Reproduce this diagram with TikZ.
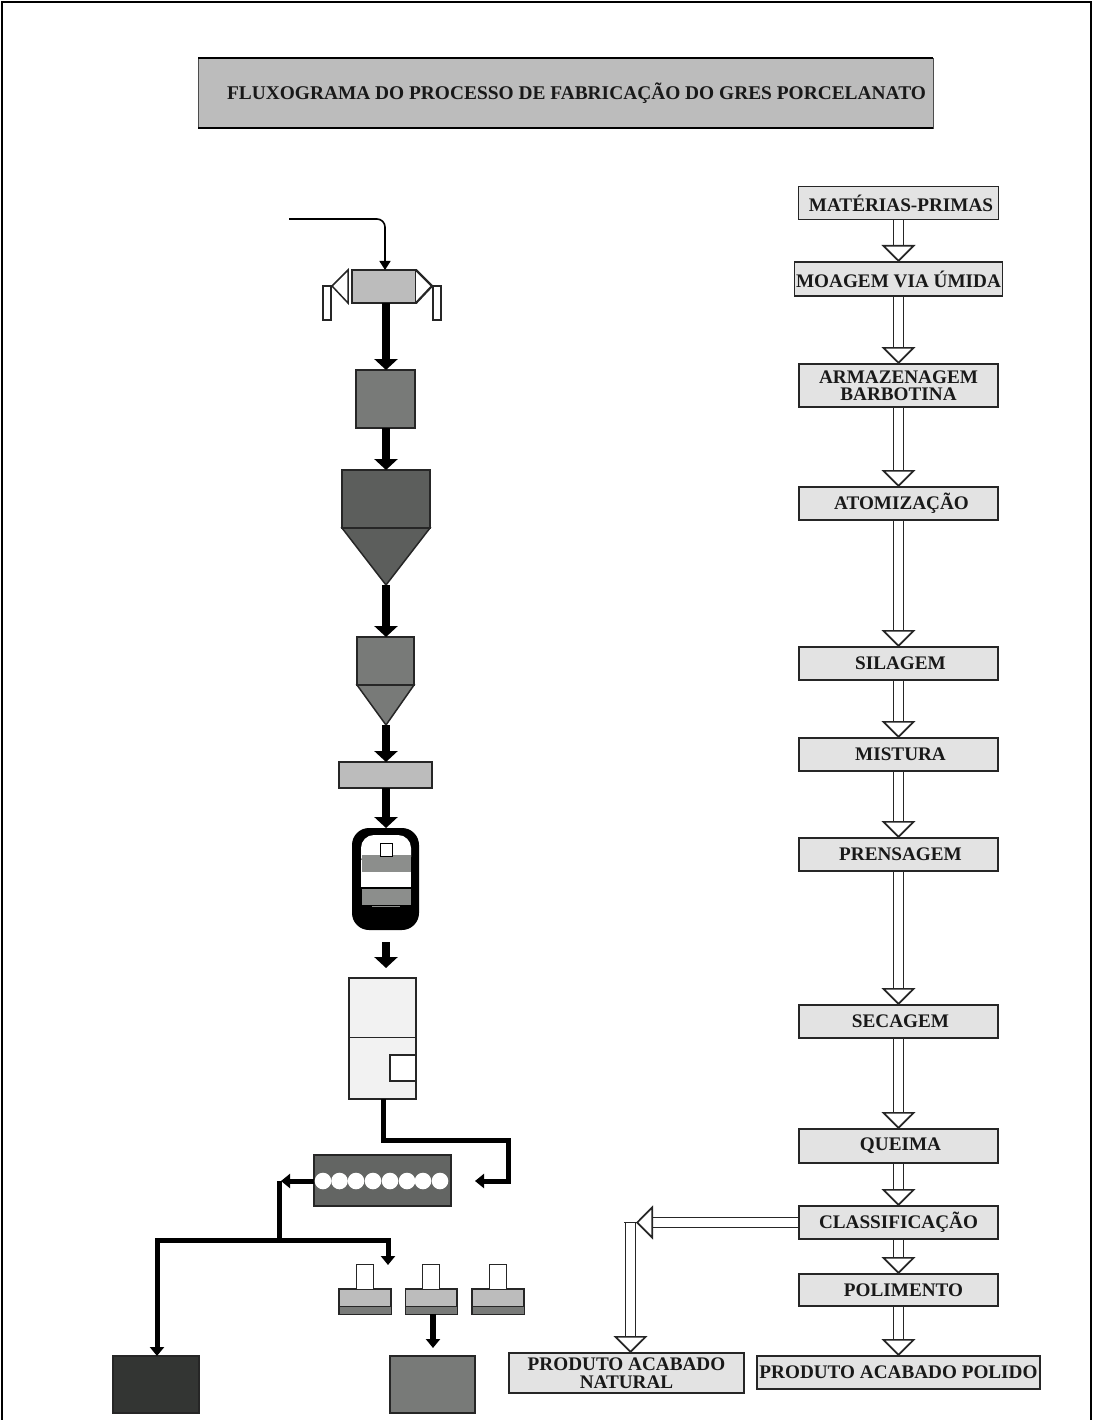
\documentclass[tikz,border=0pt]{standalone}
\usepackage{fontspec}
\setmainfont{Liberation Serif}
\usetikzlibrary{arrows.meta,calc}
\definecolor{boxgray}{HTML}{E3E3E3}
\definecolor{lightg}{HTML}{BCBCBC}
\definecolor{midg}{HTML}{787A78}
\definecolor{darkg}{HTML}{5C5E5C}
\definecolor{roller}{HTML}{636563}
\definecolor{nearblack}{HTML}{333533}
\tikzset{
  x=1pt,y=-1pt,
  stepbox/.style={draw=black!85,line width=1.5pt,fill=boxgray,inner sep=0pt,outer sep=0pt,align=center,
    font=\fontsize{19.2}{17.5}\selectfont\bfseries,text=black!90},
  hollowarrow/.style={draw=black!85,line width=1.7pt,double=white,double distance=8.5pt,shorten <=.8pt,
    -{Triangle[width=34pt,length=17pt,fill=white,line width=1.7pt]}},
  heavy/.style={draw=black,line width=8pt,-{Triangle[width=23pt,length=11pt,fill=black]}},
  feed/.style={draw=black,line width=5pt,-{Triangle[width=14pt,length=9pt,fill=black]}},
  equip/.style={draw=black!85,line width=1.5pt,inner sep=0pt,outer sep=0pt},
}
\newcommand{\pbox}[6]{% name, x0, y0, x1, y1, style
  \node[#6,minimum width=#4-#2,minimum height=#5-#3,anchor=north west] (#1) at (#2,#3) {};}
\newcommand{\stp}[5]{\node[stepbox,minimum width=#3,minimum height=#4] (#1) at (#2) {#5};}
\begin{document}
\begin{tikzpicture}
\useasboundingbox (0,0) rectangle (1093,1420);
\draw[black,line width=1.5pt] (2,1420) -- (2,2) -- (1091,2) -- (1091,1420);
% title
\node[fill=lightg,draw=black!70,line width=.6pt,anchor=north west,minimum width=735,minimum height=70,inner sep=0pt,outer sep=0pt] (title) at (198,58) {};
\draw[black,line width=2.5pt] (title.north west) -- (title.north east);
\draw[black,line width=2.5pt] (title.south west) -- (title.south east);
\node[font=\fontsize{19.4}{19}\selectfont\bfseries,text=black!90,anchor=center] (titletext) at (576.5,93) {FLUXOGRAMA DO PROCESSO DE FABRICAÇÃO DO GRES PORCELANATO};
% right column
\stp{s1}{898.5,203}{200}{33}{\hspace*{5pt}MATÉRIAS-PRIMAS}
\stp{s2}{898.5,279}{208}{34}{MOAGEM VIA ÚMIDA}
\stp{s3}{898.5,385.5}{199}{43}{ARMAZENAGEM\\BARBOTINA}
\stp{s4}{898.5,503.5}{199}{33}{\hspace*{6pt}ATOMIZAÇÃO}
\stp{s5}{898.5,663.5}{199}{33}{\hspace*{4pt}SILAGEM}
\stp{s6}{898.5,754.5}{199}{33}{\hspace*{4pt}MISTURA}
\stp{s7}{898.5,854.5}{199}{33}{\hspace*{4pt}PRENSAGEM}
\stp{s8}{898.5,1021.5}{199}{33}{\hspace*{4pt}SECAGEM}
\stp{s9}{898.5,1146}{199}{34}{\hspace*{4pt}QUEIMA}
\stp{s10}{898.5,1222.5}{199}{33}{CLASSIFICAÇÃO}
\stp{s11}{898.5,1290}{199}{32}{\hspace*{10pt}POLIMENTO}
\stp{s12}{898.5,1372.5}{283}{33}{PRODUTO ACABADO POLIDO}
\stp{s13}{626.5,1373}{235}{40}{PRODUTO ACABADO\\NATURAL}
\foreach \a/\b in {s1/s2,s2/s3,s3/s4,s4/s5,s5/s6,s6/s7,s7/s8,s8/s9,s9/s10,s10/s11,s11/s12}
  \draw[hollowarrow] (\a.south) -- (\b.north);
\coordinate (turn) at (630.5,1222.5);
\coordinate (turnin) at (636,1222.5);
\coordinate (natin) at (turn |- s13.north);
\draw[hollowarrow] (turn) -- (natin);
\draw[black!85,line width=1.7pt] ($(turn)+(-6.5,0)$) -- ($(turn)+(6.5,0)$);
\draw[hollowarrow] (s10.west) -- (turnin);
% left column
\coordinate (feedstart) at (289,219);
\pbox{mill}{352}{270}{416}{303}{equip,fill=lightg}
\coordinate (millin) at (385,270);
\draw[line width=1.6pt,-{Triangle[width=11pt,length=9pt,fill=black]},rounded corners=8pt] (feedstart) -- (feedstart -| millin) -- (millin);
\draw[equip,fill=white] (348,270) -- (332,286) -- (348,303) -- cycle;
\draw[equip,fill=white,line width=2.2pt] (416,270) -- (432,286) -- (416,303);
\node[equip,fill=white,minimum width=8,minimum height=34,anchor=north west] (legl) at (323,286) {};
\node[equip,fill=white,minimum width=8,minimum height=34,anchor=north west] (legr) at (433,286) {};
\pbox{tank}{356}{370}{415}{428}{equip,fill=midg}
\pbox{atom}{342}{470}{430}{528}{equip,fill=darkg}
\draw[equip,fill=darkg] (atom.south west) -- (atom.south east) -- (386,585) coordinate (atomtip) -- cycle;
\pbox{silo}{357}{637}{414}{685}{equip,fill=midg}
\draw[equip,fill=midg] (silo.south west) -- (silo.south east) -- (386,725) coordinate (silotip) -- cycle;
\pbox{feeder}{339}{762}{432}{788}{equip,fill=lightg}
% press
\node[fill=black,rounded corners=17pt,minimum width=67,minimum height=102,anchor=north west,inner sep=0pt,outer sep=0pt] (press) at (352,828) {};
\fill[white,rounded corners=13pt] (361,870) -- (361,835) -- (411,835) -- (411,870) -- cycle;
\fill[white] (361,860) rectangle (411,887);
\fill[midg!85] (362,855) rectangle (411,872);
\fill[midg!85] (362,889) rectangle (411,905);
\fill[midg!85] (372,905.5) rectangle (400,907);
\node[draw=black,line width=1pt,fill=white,minimum width=12,minimum height=13,anchor=north west,inner sep=0pt] (pressq) at (380,843) {};
\coordinate (outa) at (386,942);
\coordinate (outb) at (386,968);
\pbox{dryer}{349}{978}{416}{1099}{equip,fill=black!5}
\draw[black!85,line width=1pt] (dryer.west |- 0,1037) -- (dryer.east |- 0,1037);
\node[equip,fill=white,minimum width=26,minimum height=26,anchor=north west] (dryerbox) at (390,1055) {};
% kiln
\pbox{kiln}{314}{1155}{451}{1206}{equip,fill=roller}
\foreach \cx in {323,339.5,356,373,390,407,423,440}
  \fill[white] (\cx,1181) circle[radius=8.3];
\coordinate (c) at (386,0);
\foreach \a/\b in {mill/tank,tank/atom,feeder/press}
  \draw[heavy] (c |- \a.south) -- (c |- \b.north);
\draw[heavy] (atomtip) -- (c |- silo.north);
\draw[heavy] (silotip) -- (c |- feeder.north);
\draw[heavy] (outa) -- (outb);
\coordinate (kilnin) at (475,1181);
\draw[feed,line join=miter] (383,1099) -- (383,1140) -- (508,1140) -- (508,1181) -- (kilnin);
\coordinate (junc) at (279,1181);
\coordinate (bus) at (279,1240);
\draw[feed] (kiln.west |- kilnin) -- (281,1181);
\pbox{mA}{339}{1289}{391}{1314}{equip,fill=lightg}
\pbox{mB}{405.5}{1289}{457}{1314}{equip,fill=lightg}
\pbox{mC}{472}{1289}{524}{1314}{equip,fill=lightg}
\foreach \m/\tx in {mA/356,mB/422.5,mC/489}{
  \fill[midg,draw=black!85,line width=1pt] (\m.west |- 0,1306) rectangle (\m.south east);
  \node[equip,fill=white,line width=1pt,minimum width=17,minimum height=25,anchor=north west] (top\m) at (\tx,1264) {};
}
\pbox{binA}{113}{1356}{199}{1413}{equip,fill=nearblack}
\pbox{binB}{390}{1356}{475}{1413}{equip,fill=midg}
\coordinate (pressin) at (388,1265);
\draw[black,line width=5pt,line cap=butt,line join=miter] (junc) -- (bus);
\draw[feed,line join=miter] (bus) -- (157,1240) -- (157,1356);
\draw[feed,line join=miter] (bus) -- (388,1240) -- (pressin);
\draw[heavy,line width=6pt,-{Triangle[width=14pt,length=9pt,fill=black]}] (433,1314) -- (433,1348);
\end{tikzpicture}
\end{document}
